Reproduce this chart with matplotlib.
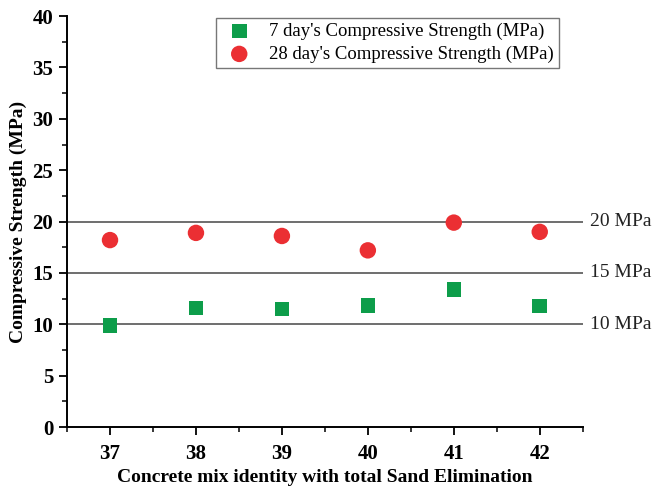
import matplotlib
matplotlib.use('Agg')
from matplotlib import pyplot as plt
from matplotlib.ticker import MultipleLocator

plt.rcParams['font.family'] = ['Liberation Serif', 'DejaVu Serif']

mix_id = [37, 38, 39, 40, 41, 42]
strength_7 = [9.9, 11.6, 11.5, 11.85, 13.4, 11.8]
strength_28 = [18.2, 18.9, 18.6, 17.2, 19.9, 19.0]
ref_levels = [10, 15, 20]
ref_labels = ['10 MPa', '15 MPa', '20 MPa']

fig = plt.figure(figsize=(6.54, 4.87), dpi=100)
ax = fig.add_axes([0.1025, 0.123, 0.7885, 0.844])

for lvl, lab in zip(ref_levels, ref_labels):
    ax.axhline(lvl, color='#555555', linewidth=1.2, zorder=1)
    ax.text(42.59, lvl, lab, fontsize=14, va='center', ha='left', color='#222222')

ax.scatter(mix_id, strength_7, marker='s', s=110, color='#0d9d4a', edgecolors='none',
           label="7 day's Compressive Strength (MPa)", zorder=3)
ax.scatter(mix_id, strength_28, marker='o', s=140, color='#eb2f33', edgecolors='none',
           label="28 day's Compressive Strength (MPa)", zorder=3)

ax.set_xlim(36.5, 42.5)
ax.set_ylim(0, 40)
ax.xaxis.set_major_locator(MultipleLocator(1))
ax.xaxis.set_minor_locator(MultipleLocator(0.5))
ax.yaxis.set_major_locator(MultipleLocator(5))
ax.yaxis.set_minor_locator(MultipleLocator(2.5))
ax.tick_params(which='major', direction='out', length=6, width=1.3, labelsize=15, pad=4)
ax.tick_params(axis='x', which='major', pad=6)
ax.tick_params(which='minor', direction='out', length=3.5, width=1.1)
for lab in ax.get_xticklabels() + ax.get_yticklabels():
    lab.set_fontweight('bold')

ax.spines['top'].set_visible(False)
ax.spines['right'].set_visible(False)
ax.spines['left'].set_linewidth(1.4)
ax.spines['bottom'].set_linewidth(1.4)

ax.set_xlabel('Concrete mix identity with total Sand Elimination', fontsize=14, fontweight='bold', labelpad=4)
ax.set_ylabel('Compressive Strength (MPa)', fontsize=14, fontweight='bold', labelpad=4)

leg = ax.legend(loc='upper right', bbox_to_anchor=(0.957, 1.0), fontsize=13.5, frameon=True,
                fancybox=False, edgecolor='#555555', borderpad=0.25, labelspacing=0.3,
                handletextpad=0.6, borderaxespad=0.1)
leg.get_frame().set_linewidth(1.0)

fig.savefig('out.png', dpi=100)
